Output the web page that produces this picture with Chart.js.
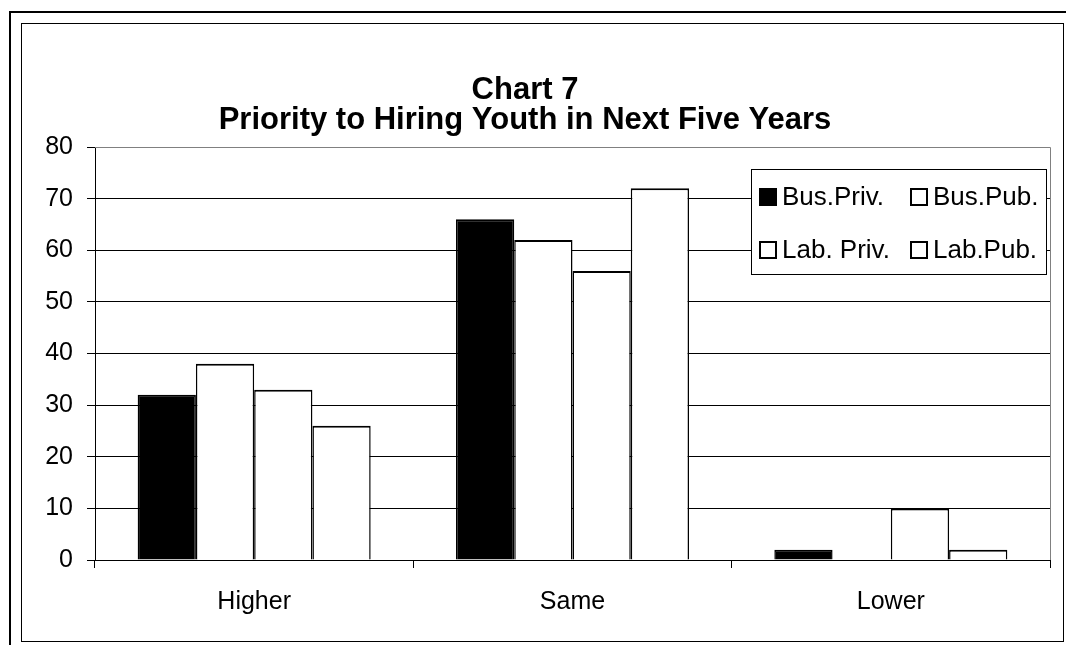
<!DOCTYPE html>
<html>
<head>
<meta charset="utf-8">
<script src="https://cdn.jsdelivr.net/npm/chart.js@4.4.1/dist/chart.umd.min.js"></script>
<style>
  html, body { margin: 0; padding: 0; background: #fff; }
  body { width: 1066px; height: 645px; position: relative; overflow: hidden; }
  .outer { position: absolute; left: 9px; top: 11px; width: 1100px; height: 700px;
           border-left: 2px solid #000; border-top: 2px solid #000; }
  .inner { position: absolute; left: 21px; top: 23px; width: 1043px; height: 619px;
           box-sizing: border-box; border: 1px solid #000; }
  canvas { position: absolute; left: 0; top: 0; }
</style>
</head>
<body>
<div class="outer"></div>
<div class="inner"></div>
<canvas id="chart7" width="1066" height="645"></canvas>
<script>
// Data
const categories = ['Higher', 'Same', 'Lower'];
const seriesNames = ['Bus.Priv.', 'Bus.Pub.', 'Lab. Priv.', 'Lab.Pub.'];
const busPriv = [32, 66, 2];
const busPub = [38, 62, 0];
const labPriv = [33, 56, 10];
const labPub = [26, 72, 2];
const yMin = 0, yMax = 80, yStep = 10;
const titleLines = ['Chart 7', 'Priority to Hiring Youth in Next Five Years'];

const FONT = "'Liberation Sans', Arial, Helvetica, sans-serif";
const barBorder = { top: 2, left: 1.5, right: 1.5, bottom: 0 };

function makeSet(label, values, fill) {
    return {
        label: label,
        data: values,
        backgroundColor: fill,
        borderColor: '#000',
        borderWidth: barBorder,
        borderSkipped: false,
        categoryPercentage: 0.732,
        barPercentage: 1.0
    };
}

// gray plot-area border (top + right), like Excel
const plotBorder = {
    id: 'plotBorder',
    beforeDatasetsDraw(chart) {
        const { ctx, chartArea: a } = chart;
        ctx.save();
        ctx.strokeStyle = '#808080';
        ctx.lineWidth = 1;
        ctx.beginPath();
        ctx.moveTo(a.left, a.top + 0.5);
        ctx.lineTo(a.right + 0.5, a.top + 0.5);
        ctx.lineTo(a.right + 0.5, a.bottom);
        ctx.stroke();
        ctx.restore();
    }
};

// boxed 2x2 legend inside the plot
const boxLegend = {
    id: 'boxLegend',
    afterDraw(chart) {
        const ctx = chart.ctx;
        const box = { x: 751, y: 169, w: 295, h: 105 };
        const cols = [759, 910];
        const rows = [197, 250];
        ctx.save();
        ctx.fillStyle = '#fff';
        ctx.fillRect(box.x, box.y, box.w, box.h);
        ctx.strokeStyle = '#000';
        ctx.lineWidth = 1;
        ctx.strokeRect(box.x + 0.5, box.y + 0.5, box.w, box.h);
        ctx.font = '26px ' + FONT;
        ctx.textBaseline = 'middle';
        ctx.textAlign = 'left';
        chart.data.datasets.forEach((ds, i) => {
            const x = cols[i % 2];
            const y = rows[Math.floor(i / 2)];
            ctx.fillStyle = ds.backgroundColor;
            ctx.fillRect(x, y - 9, 18, 18);
            ctx.lineWidth = 2;
            ctx.strokeRect(x + 1, y - 8, 16, 16);
            ctx.fillStyle = '#000';
            ctx.fillText(ds.label, x + 23, y + 1);
        });
        ctx.restore();
    }
};

const ctx = document.getElementById('chart7').getContext('2d');
new Chart(ctx, {
    type: 'bar',
    data: {
        labels: categories,
        datasets: [
            makeSet(seriesNames[0], busPriv, '#000'),
            makeSet(seriesNames[1], busPub, '#fff'),
            makeSet(seriesNames[2], labPriv, '#fff'),
            makeSet(seriesNames[3], labPub, '#fff')
        ]
    },
    options: {
        responsive: false,
        animation: false,
        devicePixelRatio: 1,
        layout: { padding: { left: 0, right: 16, top: 0, bottom: 0 } },
        plugins: {
            legend: { display: false },
            tooltip: { enabled: false },
            title: {
                display: true,
                text: titleLines,
                color: '#000',
                font: { family: FONT, size: 31, weight: 'bold', lineHeight: '30px' },
                padding: { top: 75, bottom: 12 }
            }
        },
        scales: {
            x: {
                grid: { drawOnChartArea: false, drawTicks: true, tickLength: 8, color: '#000', tickColor: '#000' },
                border: { color: '#000', width: 1 },
                ticks: { color: '#000', padding: 19, font: { family: FONT, size: 25 } },
                afterFit(scale) { scale.height = 85; }
            },
            y: {
                min: yMin,
                max: yMax,
                grid: {
                    color: c => (c.tick && c.tick.value === yMax) ? '#808080' : '#000',
                    tickColor: '#000',
                    tickLength: 8,
                    lineWidth: 1
                },
                border: { color: '#000', width: 1 },
                ticks: { stepSize: yStep, color: '#000', padding: 14, font: { family: FONT, size: 25 } },
                afterFit(scale) { scale.width = 95; }
            }
        }
    },
    plugins: [plotBorder, boxLegend]
});
</script>
</body>
</html>
